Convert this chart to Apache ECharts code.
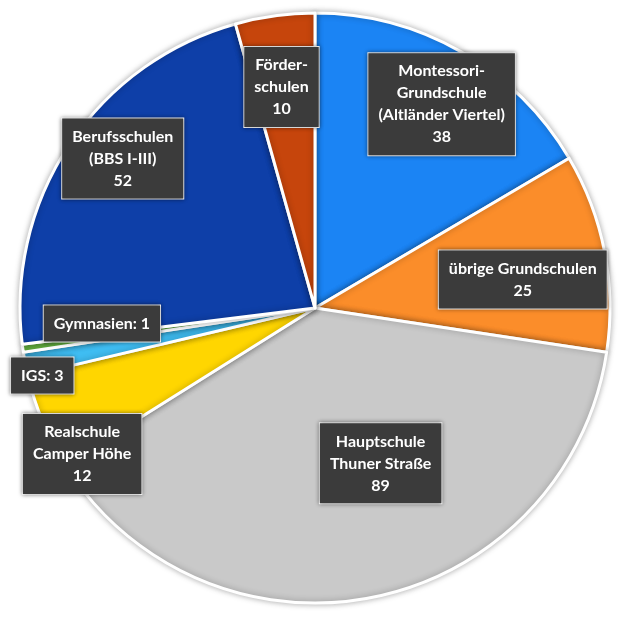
<!DOCTYPE html>
<html><head><meta charset="utf-8">
<script src="https://cdn.jsdelivr.net/npm/echarts@6/dist/echarts.min.js"></script>
<style>html,body{margin:0;padding:0;background:#fff}#c{width:640px;height:618px}</style>
</head><body><div id="c"></div>
<script>
const categories = ["Montessori-\nGrundschule\n(Altländer Viertel)", "übrige Grundschulen", "Hauptschule\nThuner Straße", "Realschule\nCamper Höhe", "IGS", "Gymnasien", "Berufsschulen\n(BBS I-III)", "Förder-\nschulen"];
const values = [38, 25, 89, 12, 3, 1, 52, 10];
const colors = ["#1b84f4", "#fb8d2a", "#c9c9c9", "#ffd600", "#3fbdf2", "#6cbf45", "#0e3fa8", "#c6450c"];
const inlineLabel = [false, false, false, false, true, true, false, false];
const offsets = [[52,-73],[60,0],[35,8],[-94,88],[-125,39],[-64,-5],[-67,-66],[-13,-72]];
const data = categories.map((n, i) => ({
  name: n, value: values[i],
  itemStyle: { color: colors[i] },
  label: { offset: offsets[i] },
  inl: inlineLabel[i]
}));
const chart = echarts.init(document.getElementById('c'));
chart.setOption({
  animation: false,
  series: [{
    type: 'pie', center: [315, 308], radius: [0, 295], startAngle: 90, clockwise: true,
    itemStyle: { borderColor: '#fff', borderWidth: 3, shadowBlur: 6, shadowColor: 'rgba(0,0,0,0.3)' },
    label: {
      position: 'inside', color: '#fff', fontFamily: 'Lato', fontWeight: 'bold', fontSize: 16, lineHeight: 22,
      backgroundColor: '#3b3b3b', padding: [7, 10], borderColor: '#fff', borderWidth: 1,
      shadowBlur: 4, shadowColor: 'rgba(0,0,0,0.4)',
      formatter: p => p.data.inl ? p.name + ': ' + p.value : p.name + '\n' + p.value
    },
    labelLine: { show: false },
    data: data
  }]
});
</script></body></html>
